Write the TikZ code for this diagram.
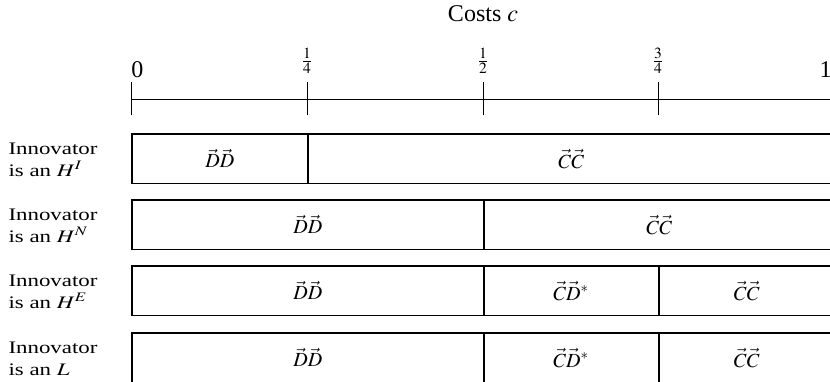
\documentclass[tikz,border=0pt]{standalone}
\usepackage{mathptmx}
\usepackage{fontspec}
\setmainfont{Liberation Serif}

\begin{document}
\begin{tikzpicture}[
  x=0.5pt, y=-0.5pt,
  cell/.style={draw, line width=0.75pt, anchor=west, minimum height=24.75pt, inner sep=0pt, font=\fontsize{10}{11}\selectfont},
  rowlabel/.style={anchor=west, align=left, xscale=1.3, inner sep=0pt, font=\fontsize{8.8}{11}\selectfont},
  axtick/.style={line width=0.5pt},
  ticklabel/.style={inner sep=0pt, font=\fontsize{12}{14}\selectfont},
  fraclabel/.style={inner sep=0pt, font=\fontsize{10.5}{12}\selectfont}
]
\useasboundingbox (0,0) rectangle (830,381);
\clip (0,0) rectangle (830,381);

% cost axis
\node[font=\fontsize{12}{14}\selectfont] (title) at (483,14) {Costs $c$};
\foreach \x/\n in {131/c0, 307/c1, 483/c2, 658/c3, 834/c4} {
  \coordinate (\n) at (\x,99.5);
  \draw[axtick] (\x,82) -- (\x,115);
}
\draw[line width=0.75pt] (c0) -- (c4);
\node[ticklabel, anchor=base west] (t0) at (131,77) {0};
\node[fraclabel] (t1) at (307,61) {$\frac{1}{4}$};
\node[fraclabel] (t2) at (483,61) {$\frac{1}{2}$};
\node[fraclabel] (t3) at (658,61) {$\frac{3}{4}$};
\node[ticklabel, anchor=base east] (t4) at (832,77) {1};

% innovator types
\node[rowlabel] (l1) at (8,159.5) {Innovator\\is an $H^I$};
\node[rowlabel] (l2) at (8,225.5) {Innovator\\is an $H^N$};
\node[rowlabel] (l3) at (8,291.5) {Innovator\\is an $H^E$};
\node[rowlabel] (l4) at (8,358.5) {Innovator\\is an $L$};

% equilibria along c
\node[cell, minimum width=88pt] (r1d) at (131,158.75) {$\vec D\vec D$};
\node[cell, minimum width=263.5pt] (r1c) at (307,158.75) {$\vec C\vec C$};

\node[cell, minimum width=176pt] (r2d) at (131,224.75) {$\vec D\vec D$};
\node[cell, minimum width=175.5pt] (r2c) at (483,224.75) {$\vec C\vec C$};

\node[cell, minimum width=176pt] (r3d) at (131,290.75) {$\vec D\vec D$};
\node[cell, minimum width=87.5pt] (r3m) at (483,290.75) {$\vec C\vec D^*$};
\node[cell, minimum width=88pt] (r3c) at (658,290.75) {$\vec C\vec C$};

\node[cell, minimum width=176pt] (r4d) at (131,357.75) {$\vec D\vec D$};
\node[cell, minimum width=87.5pt] (r4m) at (483,357.75) {$\vec C\vec D^*$};
\node[cell, minimum width=88pt] (r4c) at (658,357.75) {$\vec C\vec C$};

\end{tikzpicture}
\end{document}
